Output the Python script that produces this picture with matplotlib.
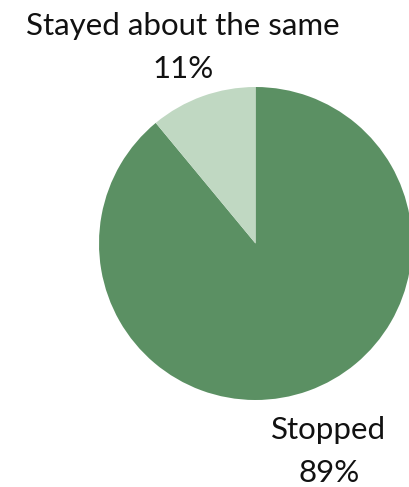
import matplotlib
matplotlib.use("Agg")
import matplotlib.pyplot as plt

plt.rcParams["font.family"] = ["Lato", "DejaVu Sans"]

# response shares
labels = ["Stopped", "Stayed about the same"]
shares = [89, 11]
colors = ["#5b9063", "#c0d8c2"]

W, H = 409, 487
fig = plt.figure(figsize=(W / 100, H / 100), dpi=100)
ax = fig.add_axes([0, 0, 1, 1])

cx, cy, r = 255.5, H - 243.5, 156.5
ax.pie(shares, colors=colors, startangle=90, counterclock=False,
       center=(cx, cy), radius=r, frame=True,
       wedgeprops={"linewidth": 0})
ax.set_xlim(0, W)
ax.set_ylim(0, H)
ax.set_aspect("equal")
ax.axis("off")

# category labels with percentages
label_pos = {"Stopped": (329, H - 439), "Stayed about the same": (183, H - 35)}
for name, val in zip(labels, shares):
    x, y = label_pos[name]
    ax.text(x, y, name, ha="center", va="baseline", fontsize=22.5,
            color="#111111")
    ax.text(x, y - 43, f"{val}%", ha="center", va="baseline", fontsize=22.5,
            color="#111111")

fig.savefig("out.png", dpi=100)
